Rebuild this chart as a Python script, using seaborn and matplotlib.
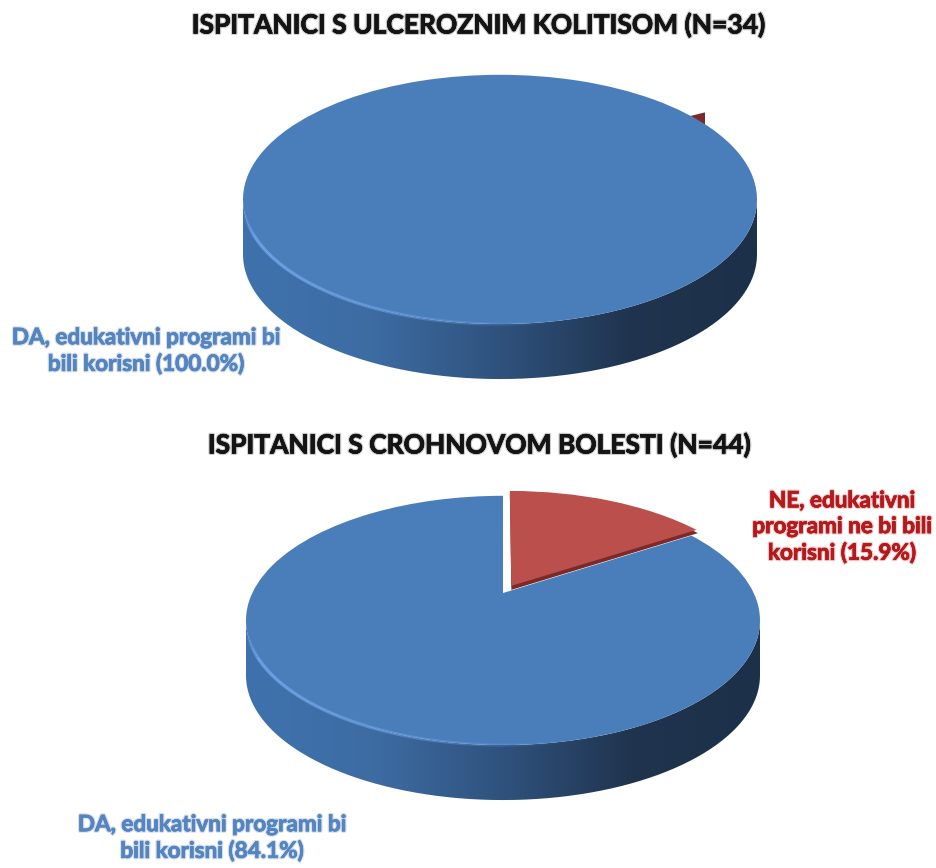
import numpy as np
import matplotlib
matplotlib.use("Agg")
import matplotlib.pyplot as plt
import matplotlib.patheffects as pe
import seaborn as sns
from matplotlib.collections import LineCollection
from matplotlib.colors import to_rgb
from matplotlib.patches import PathPatch, Rectangle, Wedge
from matplotlib.path import Path
from matplotlib.transforms import Transform

# Survey answers, in percent
titles = ["ISPITANICI S ULCEROZNIM KOLITISOM (N=34)", "ISPITANICI S CROHNOVOM BOLESTI (N=44)"]
answers = ["NE", "DA"]
uc_values = [0.0, 100.0]
cd_values = [15.9, 84.1]
uc_yes_label = "DA, edukativni programi bi\nbili korisni (100.0%)"
cd_yes_label = "DA, edukativni programi bi\nbili korisni (84.1%)"
cd_no_label = "NE, edukativni\nprogrami ne bi bili\nkorisni (15.9%)"

BLUE = "#4a7ebb"
RED = "#bb4f4b"
RED_DARK = "#7c2a28"
RIM_LIGHT = "#6fa3e6"
WALL = sns.blend_palette(["#3f72ad", "#3d6ca3", "#2f527d", "#20344f", "#1d3049"], n_colors=256)

DEPTH = 55
TILT = 0.22
R_X, R_Y = 250.7, 118.6
NE_EXPLODE = 0.07


class DiscPerspective(Transform):
    """Projects the unit disc of a pie onto a tilted plate, in pixel units."""
    input_dims = output_dims = 2
    is_separable = False

    def __init__(self, cx, cy):
        super().__init__()
        self.cx, self.cy = cx, cy

    def transform_non_affine(self, values):
        values = np.asarray(values, dtype=float)
        u, v = values[:, 0], values[:, 1]
        w = 1 + TILT * v
        return np.column_stack([self.cx + R_X * u / w, self.cy - R_Y * v / w])


sns.set_theme(style="white")
plt.rcParams["font.family"] = ["Lato", "DejaVu Sans"]

fig = plt.figure(figsize=(9.36, 8.68), dpi=100, facecolor="white")
ax = fig.add_axes([0, 0, 1, 1])


def draw_plate(cx, cy, values, explode):
    proj = DiscPerspective(cx, cy)
    t = np.linspace(0, 2 * np.pi, 721)[:-1]
    rim = proj.transform_non_affine(np.column_stack([np.cos(t), np.sin(t)]))

    # Front arc of the outline, between its leftmost and rightmost points
    left, right = rim[:, 0].argmin(), rim[:, 0].argmax()
    idx = np.arange(left, right + 1) if left < right else np.r_[left:len(t), 0:right + 1]
    front = rim[idx]

    # Side wall: shaded strip clipped to the extruded front arc
    outline = np.vstack([front + [0, DEPTH], front[::-1]])
    gradient = np.array(WALL)[None, :, :]
    image = ax.imshow(gradient, extent=(front[0, 0], front[-1, 0], cy + 230, cy - 120),
                      aspect="auto", zorder=1, interpolation="bilinear")
    clip = PathPatch(Path(outline, closed=False), transform=ax.transData, fc="none", ec="none")
    ax.add_patch(clip)
    image.set_clip_path(clip)

    wedges, _ = ax.pie(values, colors=[RED, BLUE], startangle=90, counterclock=False,
                       explode=explode, wedgeprops={"linewidth": 0, "zorder": 3})
    for wedge in wedges:
        wedge.set_transform(proj + ax.transData)

    # Light bevel along the front rim, fading in at the side and out towards the centre
    points = front[:, None, :]
    segments = np.concatenate([points[:-1], points[1:]], axis=1)
    pos = (front[:-1, 0] - front[0, 0]) / (front[-1, 0] - front[0, 0])
    fade = np.clip(1 - pos / 0.62, 0, 1) * np.clip(pos / 0.025, 0, 1)
    colours = np.column_stack([np.tile(to_rgb(RIM_LIGHT), (len(fade), 1)), fade])
    ax.add_collection(LineCollection(segments, colors=colours, linewidths=2.4, zorder=4))
    return proj, wedges


proj_uc, _ = draw_plate(500, 172, uc_values, (0, 0))
proj_cd, cd_wedges = draw_plate(503, 593, cd_values, (NE_EXPLODE, 0))

# Dark edge under the separated NE slice
mid_angle = np.deg2rad(90 - cd_values[0] * 3.6 / 2)
offset = NE_EXPLODE * np.array([np.cos(mid_angle), np.sin(mid_angle)])
edge = Wedge((offset[0], offset[1] - 0.035), 1.0, 90 - cd_values[0] * 3.6, 90,
             fc=RED_DARK, lw=0, zorder=2.5)
edge.set_transform(proj_cd + ax.transData)
ax.add_patch(edge)
cd_wedges[0].set_zorder(3.5)

# Tip of the NE slice showing behind the full DA plate
sliver = Wedge((0.035, 0.095), 1.0, 20, 28, fc=RED_DARK, lw=0, zorder=2)
sliver.set_transform(proj_uc + ax.transData)
ax.add_patch(sliver)
sliver.set_clip_path(Rectangle((600, 60), 105, 120, transform=ax.transData))

ax.set_xlim(0, 936)
ax.set_ylim(868, 0)
ax.set_aspect("auto")
ax.axis("off")


def soft_text(x, y, text, colour, size, glow):
    ax.text(x, y, text, color=colour, fontsize=size, fontweight="bold", ha="center",
            va="center", linespacing=1.28, zorder=6,
            path_effects=[pe.withStroke(linewidth=2.2, foreground=glow, alpha=0.45),
                          pe.withStroke(linewidth=0.5, foreground=colour)])


soft_text(478, 25, titles[0], "#141414", 19.0, "#8a8a8a")
soft_text(479, 445, titles[1], "#141414", 19.0, "#8a8a8a")
soft_text(146, 351, uc_yes_label, "#5585c0", 16.2, "#9db4d2")
soft_text(212, 838, cd_yes_label, "#5585c0", 16.2, "#9db4d2")
soft_text(842, 527, cd_no_label, "#b5191c", 16.2, "#d98a8a")

fig.savefig("out.png", dpi=100, facecolor="white")
